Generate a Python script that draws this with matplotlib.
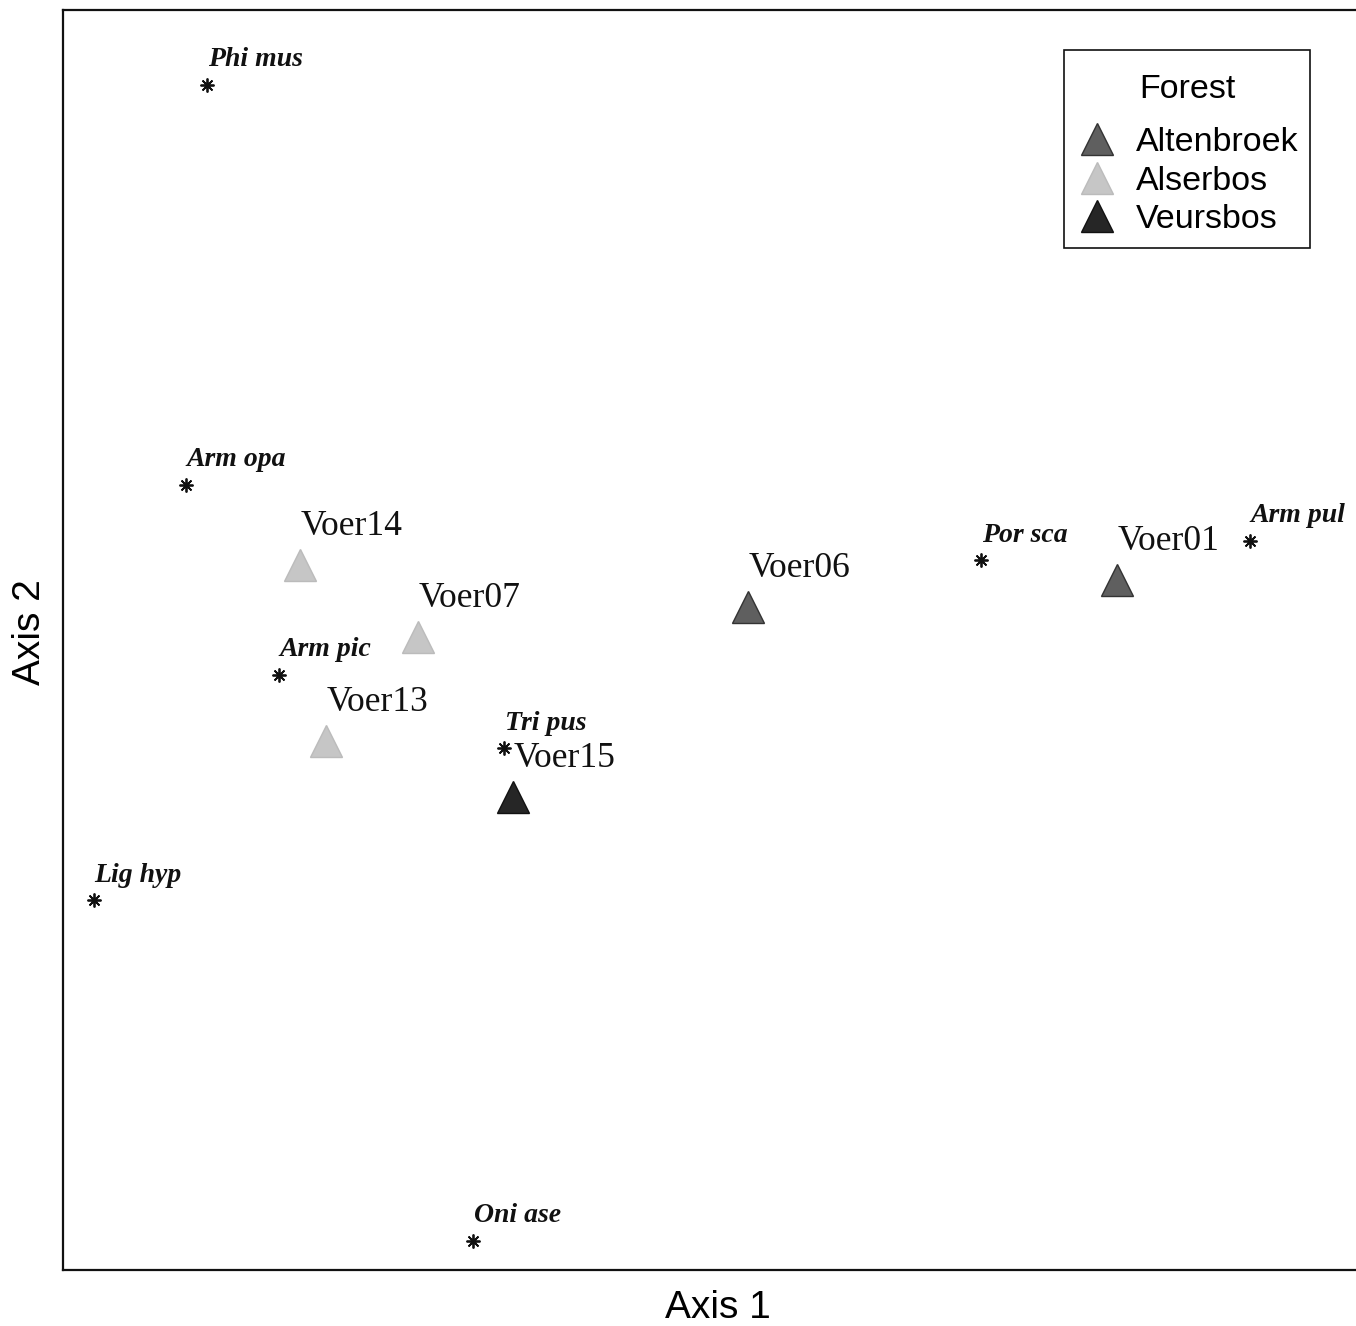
import matplotlib
matplotlib.use("Agg")
import matplotlib.pyplot as plt
from matplotlib.lines import Line2D
from matplotlib.patches import Rectangle

# Species scores (asterisks)
species = ["Phi mus", "Arm opa", "Arm pic", "Tri pus", "Lig hyp", "Oni ase", "Por sca", "Arm pul"]
species_x = [-0.456, -0.477, -0.384, -0.159, -0.569, -0.190, 0.318, 0.587]
species_y = [0.585, 0.185, -0.005, -0.078, -0.230, -0.571, 0.110, 0.129]

# Site scores (triangles)
sites = ["Voer14", "Voer07", "Voer13", "Voer15", "Voer06", "Voer01"]
sites_x = [-0.363, -0.245, -0.337, -0.150, 0.085, 0.454]
sites_y = [0.105, 0.033, -0.071, -0.127, 0.063, 0.090]
sites_forest = ["Alserbos", "Alserbos", "Alserbos", "Veursbos", "Altenbroek", "Altenbroek"]

forests = ["Altenbroek", "Alserbos", "Veursbos"]
forest_colors = {"Altenbroek": "#5f5f5f", "Alserbos": "#c6c6c6", "Veursbos": "#262626"}
forest_edges = {"Altenbroek": "#333333", "Alserbos": "#bbbbbb", "Veursbos": "#111111"}

W, H = 1356, 1326
fig = plt.figure(figsize=(W / 100, H / 100), dpi=100)
ax = fig.add_axes([63 / W, 1 - 1270 / H, (1358 - 63) / W, (1270 - 10) / H])
ax.set_xlim(-0.6, 0.695)
ax.set_ylim(-0.6, 0.66)
ax.set_xticks([])
ax.set_yticks([])
for s in ax.spines.values():
    s.set_linewidth(1.6)
    s.set_color("#111111")

serif = ["Liberation Serif", "DejaVu Serif"]
sans = ["Liberation Sans", "DejaVu Sans"]

for name, x, y in zip(species, species_x, species_y):
    ax.plot(x, y, marker=(8, 2, 0), markersize=10, color="#111111", mew=1.3, linestyle="none")
    ax.annotate(name, (x, y), xytext=(0.5, 18), textcoords="offset points",
                ha="left", va="center", fontsize=20, fontfamily=serif,
                fontweight="bold", fontstyle="italic", color="#111111")

for name, x, y, f in zip(sites, sites_x, sites_y, sites_forest):
    ax.plot(x, y, marker="^", markersize=23, markerfacecolor=forest_colors[f],
            markeredgecolor=forest_edges[f], mew=1.0, linestyle="none")
    ax.annotate(name, (x, y), xytext=(0.5, 28), textcoords="offset points",
                ha="left", va="center", fontsize=25.5, fontfamily=serif, color="#111111")

# Legend (frame drawn separately for exact padding)
handles = [Line2D([], [], marker="^", linestyle="none", markersize=23,
                  markerfacecolor=forest_colors[f], markeredgecolor=forest_edges[f], mew=1.0)
           for f in forests]
leg = fig.legend(handles, forests, title="Forest", loc="upper left",
                 bbox_to_anchor=(1075 / W, 1 - 74 / H),
                 frameon=False,
                 prop={"family": sans, "size": 24.5}, title_fontproperties={"family": sans, "size": 24.5},
                 handletextpad=0.5, labelspacing=0.22, borderpad=0.0, handlelength=1.3,
                 borderaxespad=0)
leg._legend_box.sep = 16
fig.patches.append(Rectangle((1064 / W, 1 - 248 / H), (1310 - 1064) / W, (248 - 50) / H,
                             transform=fig.transFigure, facecolor="white",
                             edgecolor="#111111", linewidth=1.2, zorder=4))
leg.set_zorder(5)

fig.text(718 / W, 1 - 1308 / H, "Axis 1", ha="center", va="center", fontsize=28, fontfamily=sans)
fig.text(30 / W, 1 - 632 / H, "Axis 2", ha="center", va="center", rotation=90, fontsize=28, fontfamily=sans)

fig.savefig("out.png", dpi=100)
